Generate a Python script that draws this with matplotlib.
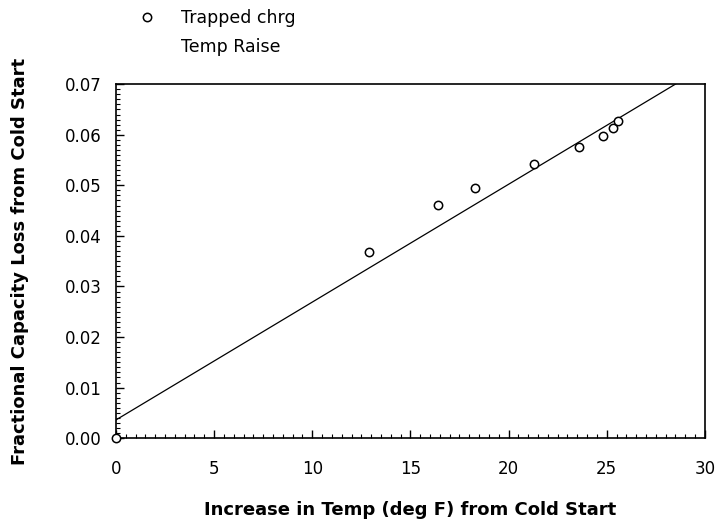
import matplotlib
matplotlib.use('Agg')
import matplotlib.pyplot as plt
from matplotlib.ticker import MultipleLocator

plt.rcParams['font.family'] = ['DejaVu Sans']

# measured points (increase in temp, fractional capacity loss)
temp_rise = [0.0, 12.9, 16.4, 18.3, 21.3, 23.6, 24.8, 25.3, 25.6]
cap_loss = [0.0, 0.0368, 0.0461, 0.0494, 0.0543, 0.0576, 0.0597, 0.0614, 0.0627]

# straight line fit endpoints
fit_x = [0, 30]
fit_y = [0.0036, 0.0735]

fig = plt.figure(figsize=(7.2, 5.26), dpi=100)
ax = fig.add_axes([0.161, 0.167, 0.818, 0.673])

pts, = ax.plot(temp_rise, cap_loss, 'o', mfc='white', mec='black',
               ms=6, mew=1.1, clip_on=False, zorder=3, label='Trapped chrg')
fit, = ax.plot(fit_x, fit_y, color='black', lw=0.9, label='Temp Raise')

ax.set_xlim(0, 30)
ax.set_ylim(0, 0.07)
ax.xaxis.set_major_locator(MultipleLocator(5))
ax.xaxis.set_minor_locator(MultipleLocator(0.5))
ax.yaxis.set_major_locator(MultipleLocator(0.01))
ax.yaxis.set_minor_locator(MultipleLocator(0.001))
ax.yaxis.set_major_formatter(plt.FormatStrFormatter('%.2f'))
ax.tick_params(which='major', direction='in', length=6, width=1,
               labelsize=12, top=False, right=False)
ax.tick_params(which='minor', direction='in', length=3, width=0.8,
               top=False, right=False)
ax.tick_params(axis='x', pad=16)
ax.tick_params(axis='y', pad=10)
for s in ax.spines.values():
    s.set_linewidth(1.2)

ax.set_xlabel('Increase in Temp (deg F) from Cold Start', fontsize=13,
              fontweight='bold', labelpad=16)
ax.set_ylabel('Fractional Capacity Loss from Cold Start', fontsize=13,
              fontweight='bold', labelpad=26)

leg = fig.legend(handles=[pts, fit], labels=['Trapped chrg', 'Temp Raise'],
                 loc='upper left', bbox_to_anchor=(0.165, 1.012), frameon=False,
                 fontsize=12.5, handlelength=1.5, handletextpad=1.2,
                 labelspacing=0.6)
leg.legend_handles[1].set_visible(False)

plt.savefig('out.png', dpi=100)
